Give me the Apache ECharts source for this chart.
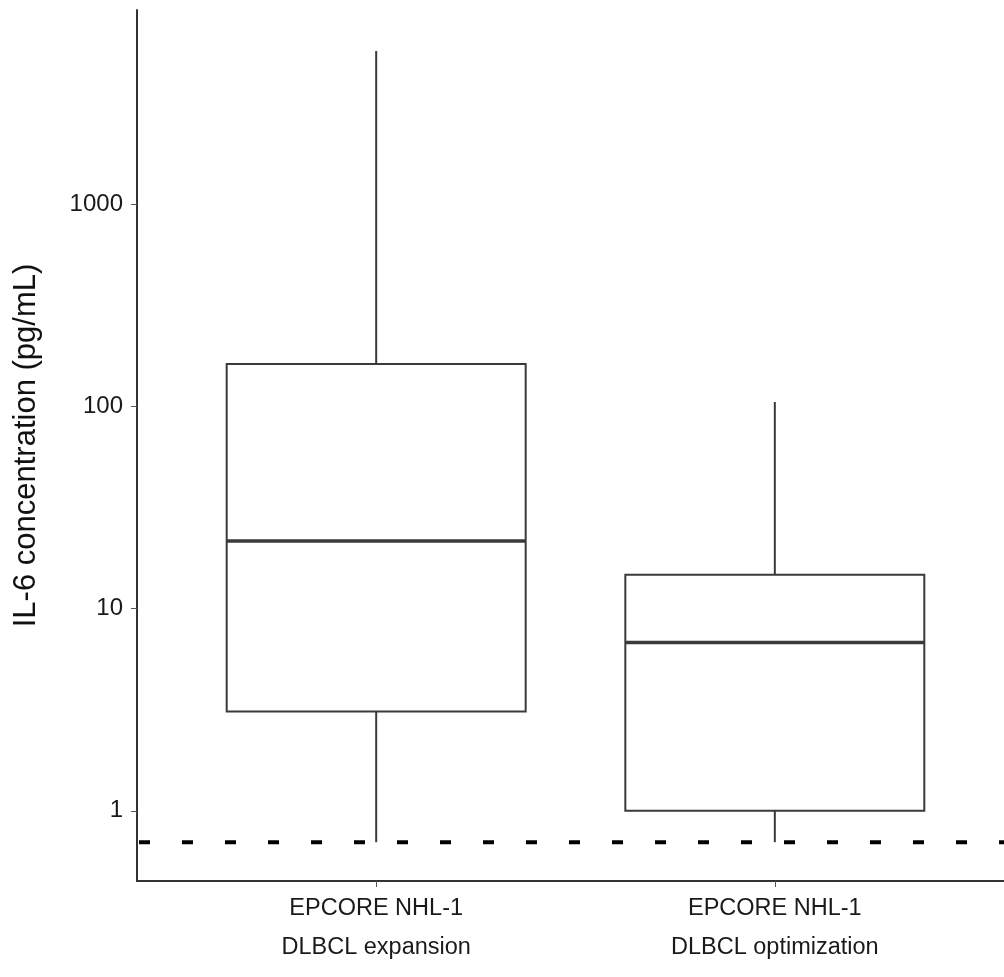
<!DOCTYPE html>
<html>
<head>
<meta charset="utf-8">
<script src="https://cdn.jsdelivr.net/npm/echarts@6/dist/echarts.min.js"></script>
<style>html,body{margin:0;padding:0;background:#fff}#chart{width:1004px;height:977px}</style>
</head>
<body>
<div id="chart"></div>
<script>
const categories = ['EPCORE NHL-1\nDLBCL expansion', 'EPCORE NHL-1\nDLBCL optimization'];
const whiskerLow = [0.70, 0.70];
const q1 = [3.1, 1.0];
const median = [21.6, 6.8];
const q3 = [162, 14.7];
const whiskerHigh = [5700, 105];
const limitOfDetection = 0.70;
const yTicks = [1, 10, 100, 1000];
const yRange = [0.45, 9100];
const yTitle = 'IL-6 concentration (pg/mL)';

const lg = v => Math.log10(v);
const boxData = categories.map((c, i) => [i + 1, lg(whiskerLow[i]), lg(q1[i]), lg(median[i]), lg(q3[i]), lg(whiskerHigh[i])]);
const lineColor = '#3a3a3a';

const chart = echarts.init(document.getElementById('chart'), null, {renderer: 'canvas'});
chart.setOption({
  animation: false,
  backgroundColor: '#fff',
  grid: {left: 137, right: -10, top: 10, bottom: 96, containLabel: false, outerBoundsMode: 'none'},
  xAxis: {
    type: 'value', min: 0.4, max: 2.6,
    splitLine: {show: false},
    axisLine: {show: true, onZero: false, lineStyle: {color: '#333', width: 2}},
    axisTick: {show: true, customValues: [1, 2], length: 6, lineStyle: {color: '#555', width: 1}},
    axisLabel: {
      customValues: [1, 2], margin: 8,
      formatter: v => categories[Math.round(v) - 1] || '',
      color: '#1a1a1a', fontSize: 23.5, lineHeight: 39, fontFamily: 'Liberation Sans, Arial, sans-serif'
    }
  },
  yAxis: {
    type: 'value', min: lg(yRange[0]), max: lg(yRange[1]),
    name: yTitle, nameLocation: 'middle', nameGap: 95, nameRotate: 90,
    nameTextStyle: {color: '#111', fontSize: 31, fontFamily: 'Liberation Sans, Arial, sans-serif'},
    splitLine: {show: false},
    axisLine: {show: true, onZero: false, lineStyle: {color: '#333', width: 2}},
    axisTick: {show: true, customValues: yTicks.map(lg), length: 6, lineStyle: {color: '#555', width: 1}},
    axisLabel: {
      customValues: yTicks.map(lg), margin: 14,
      formatter: v => String(Math.round(Math.pow(10, v))),
      color: '#1a1a1a', fontSize: 24, fontFamily: 'Liberation Sans, Arial, sans-serif'
    }
  },
  series: [
    {
      type: 'line',
      data: [[0.4, lg(limitOfDetection)], [2.6, lg(limitOfDetection)]],
      symbol: 'none', silent: true, z: 1,
      lineStyle: {color: '#000', width: 4, type: [11, 32], dashOffset: -2}
    },
    {
      type: 'custom', z: 2,
      data: boxData,
      renderItem: function (params, api) {
        const x = api.value(0);
        const pLow = api.coord([x, api.value(1)]);
        const pQ1 = api.coord([x, api.value(2)]);
        const pMed = api.coord([x, api.value(3)]);
        const pQ3 = api.coord([x, api.value(4)]);
        const pHigh = api.coord([x, api.value(5)]);
        const half = api.size([1, 0])[0] * 0.75 / 2;
        const cx = pQ1[0];
        const st = {stroke: lineColor, lineWidth: 2, fill: null};
        return {
          type: 'group',
          children: [
            {type: 'line', shape: {x1: cx, y1: pQ3[1], x2: cx, y2: pHigh[1]}, style: st},
            {type: 'line', shape: {x1: cx, y1: pQ1[1], x2: cx, y2: pLow[1]}, style: st},
            {type: 'rect', shape: {x: cx - half, y: pQ3[1], width: half * 2, height: pQ1[1] - pQ3[1]}, style: {stroke: lineColor, lineWidth: 2, fill: '#fff'}},
            {type: 'line', shape: {x1: cx - half, y1: pMed[1], x2: cx + half, y2: pMed[1]}, style: {stroke: lineColor, lineWidth: 3.5}}
          ]
        };
      }
    }
  ]
});
</script>
</body>
</html>
